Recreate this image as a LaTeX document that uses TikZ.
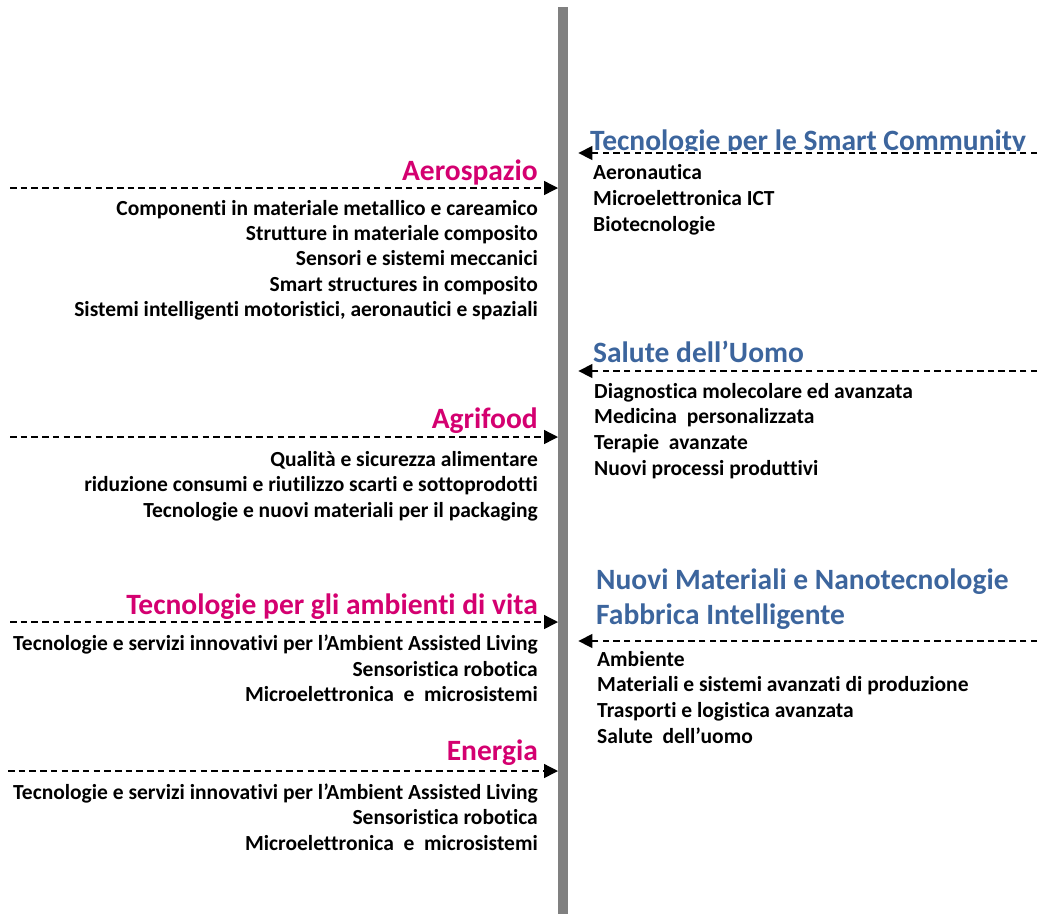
\documentclass[tikz,border=0pt]{standalone}
\usepackage{fontspec}
\setmainfont{Carlito}[Ligatures={NoCommon}]
\usetikzlibrary{arrows.meta}
\definecolor{secpink}{RGB}{212,0,112}
\definecolor{secblue}{RGB}{60,101,157}
\definecolor{axisgray}{RGB}{128,128,128}
\tikzset{
  feed/.style={line width=1.4pt, dash pattern=on 6.5pt off 4.2pt,
    -{Triangle[length=14pt,width=14pt]}},
  lefttitle/.style={anchor=base east, inner sep=0pt, text=secpink,
    font=\fontsize{29.5}{35}\selectfont\bfseries},
  righttitle/.style={anchor=base west, inner sep=0pt, text=secblue,
    font=\fontsize{29.5}{35}\selectfont\bfseries, align=left},
  leftlist/.style={anchor=base east, inner sep=0pt, align=right,
    font=\fontsize{21.5}{25.3}\selectfont\bfseries},
  rightlist/.style={anchor=base west, inner sep=0pt, align=left,
    font=\fontsize{21.5}{25.6}\selectfont\bfseries},
}
% multi-line lists are placed by the baseline of their last line
\begin{document}
\begin{tikzpicture}[x=1pt,y=-1pt]
\useasboundingbox (0,0) rectangle (1043,914);

% central vertical axis
\node[fill=axisgray, inner sep=0pt, minimum width=10pt, minimum height=907pt,
  anchor=north west] (axis) at (558,7) {};

% ---------------- left side: sectors ----------------
\node[lefttitle] (aero) at (538,180) {Aerospazio};
\coordinate (aeroS) at (10,188);
\draw[feed] (aeroS) -- (aeroS -| axis.west);
\node[leftlist] (aeroL) at (538,316.5) {Componenti in materiale metallico e careamico\\
Strutture in materiale composito\\
Sensori e sistemi meccanici\\
Smart structures in composito\\
Sistemi intelligenti motoristici, aeronautici e spaziali};

\node[lefttitle] (agri) at (538,428) {Agrifood};
\coordinate (agriS) at (10,437);
\draw[feed] (agriS) -- (agriS -| axis.west);
\node[leftlist] (agriL) at (538,517) {Qualità e sicurezza alimentare\\
riduzione consumi e riutilizzo scarti e sottoprodotti\\
Tecnologie e nuovi materiali per il packaging};

\node[lefttitle] (vita) at (538,614.5) {Tecnologie per gli ambienti di vita};
\coordinate (vitaS) at (10,622);
\draw[feed] (vitaS) -- (vitaS -| axis.west);
\node[leftlist] (vitaL) at (538,701.5) {Tecnologie e servizi innovativi per l’Ambient Assisted Living\\
Sensoristica robotica\\
Microelettronica~ e~ microsistemi};

\node[lefttitle] (ener) at (538,760) {Energia};
\coordinate (enerS) at (8,771);
\draw[feed] (enerS) -- (enerS -| axis.west);
\node[leftlist] (enerL) at (538,850) {Tecnologie e servizi innovativi per l’Ambient Assisted Living\\
Sensoristica robotica\\
Microelettronica~ e~ microsistemi};

% ---------------- right side: technology areas ----------------
\begin{scope}
  \clip (575,100) rectangle (1043,150.5);
  \node[righttitle] (smart) at (590,150) {Tecnologie per le Smart Community};
\end{scope}
\coordinate (smartS) at (1037,153);
\draw[feed] (smartS) -- ([xshift=10pt]smartS -| axis.east);
\node[rightlist] (smartL) at (593,231) {Aeronautica\\
Microelettronica ICT\\
Biotecnologie};

\node[righttitle] (salute) at (593,362) {Salute dell’Uomo};
\coordinate (saluteS) at (1037,371);
\draw[feed] (saluteS) -- ([xshift=10pt]saluteS -| axis.east);
\node[rightlist] (saluteL) at (594,475) {Diagnostica molecolare ed avanzata\\
Medicina~ personalizzata\\
Terapie~ avanzate\\
Nuovi processi produttivi};

\node[righttitle] (nano) at (596,624.5) {Nuovi Materiali e Nanotecnologie\\
Fabbrica Intelligente};
\coordinate (nanoS) at (1037,641);
\draw[feed] (nanoS) -- ([xshift=10pt]nanoS -| axis.east);
\node[rightlist] (nanoL) at (597,743) {Ambiente\\
Materiali e sistemi avanzati di produzione\\
Trasporti e logistica avanzata\\
Salute~ dell’uomo};
\end{tikzpicture}
\end{document}
